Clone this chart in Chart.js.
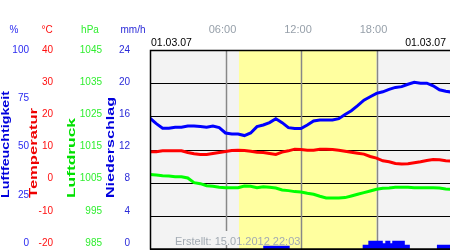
<!DOCTYPE html>
<html lang="de">
<head>
    <meta charset="UTF-8">
    <title>Wetter 01.03.07</title>
    <script src="https://cdn.jsdelivr.net/npm/chart.js"></script>
    <style>
        body { margin: 0; background: #ffffff; }
        canvas { display: block; }
    </style>
</head>
<body>
    <canvas id="wetterChart" width="450" height="250"></canvas>

    <script>
        // half-hour steps over the day
        const hours = [0, 0.5, 1, 1.5, 2, 2.5, 3, 3.5, 4, 4.5, 5, 5.5, 6, 6.5, 7, 7.5, 8, 8.5, 9, 9.5,
            10, 10.5, 11, 11.5, 12, 12.5, 13, 13.5, 14, 14.5, 15, 15.5, 16, 16.5, 17, 17.5, 18, 18.5, 19, 19.5,
            20, 20.5, 21, 21.5, 22, 22.5, 23, 23.5, 24];

        const humidity = [65.7, 63, 60.7, 60.7, 61.2, 61.2, 61.8, 61.8, 61.5, 61.2, 61.8, 61.0, 58.3, 57.8, 57.8, 57.0, 58.3, 61.5, 62.3, 63.5,
            65.5, 63.5, 61.0, 60.5, 60.5, 62.3, 64.3, 64.8, 64.8, 64.8, 65.5, 67.6, 69.5, 72.0, 74.8, 76.5, 78.2, 79.0, 80.2, 81.2,
            81.6, 82.8, 83.8, 83.3, 83.3, 82.0, 80.0, 79.3, 78.8];

        const temperature = [9.3, 9.3, 9.6, 9.6, 9.6, 9.6, 9.1, 8.7, 8.5, 8.5, 8.8, 9.1, 9.4, 9.7, 9.8, 9.7, 9.5, 9.2, 9.1, 8.8,
            8.5, 9.2, 9.6, 10.1, 10.0, 9.8, 9.8, 10.1, 10.1, 10.0, 9.8, 9.5, 9.2, 8.9, 8.6, 7.9, 7.4, 6.6, 6.3, 5.8,
            5.6, 5.7, 6.0, 6.3, 6.7, 7.0, 6.9, 6.6, 6.5];

        const pressure = [1007.5, 1007.3, 1007.1, 1007.0, 1006.8, 1006.8, 1006.4, 1005.0, 1004.7, 1004.1, 1003.9, 1003.6, 1003.5, 1003.5, 1003.5, 1004.0, 1003.9, 1003.5, 1003.8, 1003.6,
            1003.4, 1002.8, 1002.6, 1002.3, 1002.2, 1001.8, 1001.5, 1000.9, 1000.4, 1000.4, 1000.4, 1000.5, 1001.0, 1001.5, 1002.0, 1002.5, 1003.0, 1003.3, 1003.4, 1003.6,
            1003.6, 1003.6, 1003.5, 1003.5, 1003.5, 1003.5, 1003.4, 1003.1, 1003.0];

        // precipitation as steps: rate holds from each hour to the next
        const precipHours = [0, 9.0, 11.1, 16.9, 17.35, 18.5, 18.7, 19.1, 19.25, 20.25, 20.65, 22.8, 24];
        const precipRate = [0, 0.4, 0, 0.5, 1.0, 0.7, 1.0, 0.7, 1.0, 0.5, 0, 0.5, 0.5];

        const humidityTicks = [0, 25, 50, 75, 100];
        const temperatureTicks = [-20, -10, 0, 10, 20, 30, 40];
        const pressureTicks = [985, 995, 1005, 1015, 1025, 1035, 1045];
        const precipTicks = [0, 4, 8, 12, 16, 20, 24];
        const timeTicks = [6, 12, 18];
        const timeLabels = ['06:00', '12:00', '18:00'];
        const daylight = [7.07, 18.0];
        const dateText = '01.03.07';
        const createdText = 'Erstellt: 15.01.2012 22:03';

        const FONT = '"Liberation Sans", Arial, sans-serif';
        const GREY_BG = '#f3f3f3';
        const YELLOW_BG = '#ffff9f';

        function toPoints(xs, ys) {
            return xs.map((x, i) => ({ x: x, y: ys[i] }));
        }

        function drawTitle(ctx, text, xBase, yStart, length, color) {
            ctx.save();
            ctx.font = 'bold 10px ' + FONT;
            const w = ctx.measureText(text).width;
            ctx.translate(xBase, yStart);
            ctx.rotate(-Math.PI / 2);
            ctx.scale(length / w, 1);
            ctx.fillStyle = color;
            ctx.textAlign = 'left';
            ctx.textBaseline = 'alphabetic';
            ctx.fillText(text, 0, 0);
            ctx.restore();
        }

        const framePlugin = {
            id: 'frame',
            beforeDatasetsDraw(chart) {
                const ctx = chart.ctx;
                const a = chart.chartArea;
                const xs = chart.scales.x;
                const yT = chart.scales.yTemp;
                const x1 = xs.getPixelForValue(daylight[0]);
                const x2 = xs.getPixelForValue(daylight[1]);

                ctx.save();
                ctx.fillStyle = GREY_BG;
                ctx.fillRect(a.left, a.top, a.right - a.left, a.bottom - a.top);
                ctx.fillStyle = YELLOW_BG;
                ctx.fillRect(x1, a.top, x2 - x1, a.bottom - a.top);

                // horizontal grid
                ctx.strokeStyle = '#000000';
                ctx.lineWidth = 1;
                temperatureTicks.forEach(v => {
                    const y = Math.round(yT.getPixelForValue(v)) + 0.5;
                    ctx.beginPath();
                    ctx.moveTo(a.left, y);
                    ctx.lineTo(a.right, y);
                    ctx.stroke();
                });

                // vertical time lines
                ctx.strokeStyle = '#888888';
                ctx.lineWidth = 1.5;
                timeTicks.forEach(h => {
                    const x = Math.round(xs.getPixelForValue(h)) + 0.5;
                    ctx.beginPath();
                    ctx.moveTo(x, a.top);
                    ctx.lineTo(x, a.bottom);
                    ctx.stroke();
                });

                // box behind the "Erstellt" text
                const bx = 172, bw = 128, by = a.bottom - 18, bh = 14;
                ctx.fillStyle = GREY_BG;
                ctx.fillRect(bx, by, Math.min(bw, x1 - bx), bh);
                ctx.fillStyle = YELLOW_BG;
                ctx.fillRect(x1, by, bx + bw - x1, bh);
                ctx.font = '11px ' + FONT;
                ctx.fillStyle = '#a3abb3';
                ctx.textAlign = 'left';
                ctx.textBaseline = 'alphabetic';
                ctx.fillText(createdText, 175, a.bottom - 4);
                ctx.restore();
            },
            afterDraw(chart) {
                const ctx = chart.ctx;
                const a = chart.chartArea;
                const xs = chart.scales.x;

                ctx.save();
                // frame
                ctx.strokeStyle = '#000000';
                ctx.lineWidth = 1.5;
                ctx.beginPath();
                ctx.moveTo(a.right, a.top + 0.5);
                ctx.lineTo(a.left + 0.5, a.top + 0.5);
                ctx.lineTo(a.left + 0.5, a.bottom);
                ctx.lineTo(a.right, a.bottom);
                ctx.stroke();

                // tick labels, squeezed slightly so the lowest stays inside
                const squeeze = p => a.top + (p - a.top) * 193 / 199;
                ctx.font = '10px ' + FONT;
                ctx.textBaseline = 'middle';
                ctx.textAlign = 'right';
                const columns = [
                    { scale: chart.scales.yHum, ticks: humidityTicks, x: 29, color: '#2a2af0' },
                    { scale: chart.scales.yTemp, ticks: temperatureTicks, x: 53, color: '#ff1010' },
                    { scale: chart.scales.yPres, ticks: pressureTicks, x: 102, color: '#30ee30' },
                    { scale: chart.scales.yRain, ticks: precipTicks, x: 130, color: '#2a2ad8' }
                ];
                columns.forEach(c => {
                    ctx.fillStyle = c.color;
                    c.ticks.forEach(v => {
                        ctx.fillText(String(v), c.x, squeeze(c.scale.getPixelForValue(v)));
                    });
                });

                // units
                ctx.textAlign = 'center';
                ctx.fillStyle = '#2a2af0';
                ctx.fillText('%', 14, 30);
                ctx.fillStyle = '#ff1010';
                ctx.fillText('°C', 47, 30);
                ctx.fillStyle = '#30ee30';
                ctx.fillText('hPa', 90, 30);
                ctx.fillStyle = '#2a2ad8';
                ctx.fillText('mm/h', 133, 30);

                // time labels and dates
                ctx.font = '11px ' + FONT;
                ctx.fillStyle = '#97a0aa';
                timeTicks.forEach((h, i) => {
                    ctx.fillText(timeLabels[i], xs.getPixelForValue(h) - 3, 30);
                });
                ctx.font = '10.5px ' + FONT;
                ctx.fillStyle = '#000000';
                ctx.textAlign = 'left';
                ctx.fillText(dateText, a.left + 1, 43);
                ctx.textAlign = 'right';
                ctx.fillText(dateText, a.right - 4, 43);
                ctx.restore();

                // rotated axis titles
                drawTitle(ctx, 'Luftfeuchtigkeit', 9, 198, 107, '#0000dd');
                drawTitle(ctx, 'Temperatur', 37, 198, 90, '#ee0000');
                drawTitle(ctx, 'Luftdruck', 75, 198, 80, '#00e000');
                drawTitle(ctx, 'Niederschlag', 114, 198, 101, '#0000dd');
            }
        };

        const ctx = document.getElementById('wetterChart').getContext('2d');
        new Chart(ctx, {
            type: 'line',
            data: {
                datasets: [
                    {
                        label: 'Luftfeuchtigkeit',
                        data: toPoints(hours, humidity),
                        yAxisID: 'yHum',
                        borderColor: '#0000ff',
                        borderWidth: 3,
                        pointRadius: 0,
                        tension: 0,
                        fill: false
                    },
                    {
                        label: 'Temperatur',
                        data: toPoints(hours, temperature),
                        yAxisID: 'yTemp',
                        borderColor: '#ff0000',
                        borderWidth: 3,
                        pointRadius: 0,
                        tension: 0,
                        fill: false
                    },
                    {
                        label: 'Luftdruck',
                        data: toPoints(hours, pressure),
                        yAxisID: 'yPres',
                        borderColor: '#00ff00',
                        borderWidth: 3,
                        pointRadius: 0,
                        tension: 0,
                        fill: false
                    },
                    {
                        label: 'Niederschlag',
                        data: toPoints(precipHours, precipRate),
                        yAxisID: 'yRain',
                        borderColor: 'rgba(0,0,255,0)',
                        borderWidth: 0,
                        backgroundColor: '#0000ff',
                        pointRadius: 0,
                        stepped: true,
                        fill: 'origin'
                    }
                ]
            },
            options: {
                responsive: false,
                animation: false,
                layout: { padding: { left: 150, top: 50, right: 0, bottom: 1 } },
                plugins: {
                    legend: { display: false },
                    tooltip: { enabled: false }
                },
                scales: {
                    x: { type: 'linear', min: 0, max: 23.84, display: false },
                    yHum: { type: 'linear', min: 0, max: 100, display: false },
                    yTemp: { type: 'linear', min: -20, max: 40, display: false },
                    yPres: { type: 'linear', min: 985, max: 1045, display: false },
                    yRain: { type: 'linear', min: 0, max: 24, display: false }
                }
            },
            plugins: [framePlugin]
        });
    </script>
</body>
</html>
